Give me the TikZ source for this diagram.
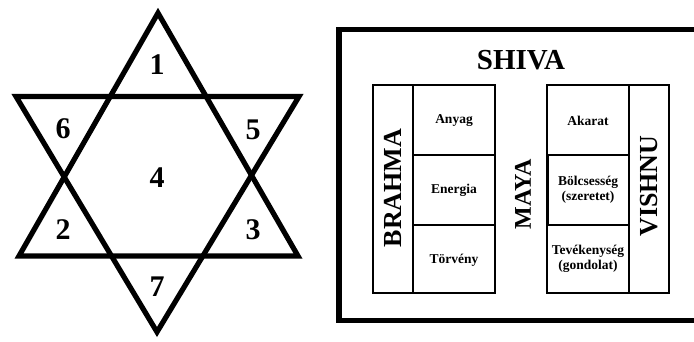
\documentclass[tikz,border=0pt]{standalone}
\usepackage{fontspec}
\setmainfont{Liberation Serif}
\begin{document}
\begin{tikzpicture}[x=1pt,y=-1pt,
  star/.style={line width=5.2pt,line join=miter},
  frame/.style={line width=5.5pt},
  thin/.style={line width=1.8pt},
  digit/.style={font=\fontsize{30}{34}\selectfont\bfseries,inner sep=0pt},
  god/.style={font=\fontsize{26}{30}\selectfont\bfseries,inner sep=0pt,rotate=90},
  celltext/.style={font=\fontsize{13.5}{15}\selectfont\bfseries,inner sep=0pt,align=center}]
\useasboundingbox[fill=white] (0,0) rectangle (694,341);
% star
\coordinate (ua) at (158,13);
\coordinate (ul) at (19,256);
\coordinate (ur) at (298,256);
\coordinate (dl) at (16,96.5);
\coordinate (dr) at (299,96.5);
\coordinate (da) at (157,332);
\draw[star] (ua) -- (ul) -- (ur) -- cycle;
\draw[star] (dl) -- (dr) -- (da) -- cycle;
\node[digit] (n1) at (157,65) {1};
\node[digit] (n6) at (63,129) {6};
\node[digit] (n5) at (253,130) {5};
\node[digit] (n4) at (157,178) {4};
\node[digit] (n2) at (63,230) {2};
\node[digit] (n3) at (253,230) {3};
\node[digit] (n7) at (157,287) {7};
% frame
\draw[frame] (698,29.5) -- (339,29.5) -- (339,320.5) -- (698,320.5);
\node[font=\fontsize{29}{34}\selectfont\bfseries,inner sep=0pt] (shiva) at (521,60) {SHIVA};
% left block
\draw[thin] (373,85) rectangle (495,293);
\draw[thin] (413,85) -- (413,293);
\draw[thin] (413,155) -- (495,155);
\draw[thin] (413,225) -- (495,225);
\node[god] (brahma) at (393,188) {BRAHMA};
\node[celltext] (anyag) at (454,121) {Anyag};
\node[celltext] (energia) at (454,190) {Energia};
\node[celltext] (torveny) at (454,260) {Törvény};
% maya
\node[god,font=\fontsize{24}{28}\selectfont\bfseries] (maya) at (523,194) {MAYA};
% right block
\draw[thin] (547,85) rectangle (669,293);
\draw[thin] (629,85) -- (629,293);
\draw[thin] (547,155) -- (629,155);
\draw[thin] (547,225) -- (629,225);
\draw[line width=3pt] (547.5,155) -- (547.5,225);
\node[god] (vishnu) at (649,186) {VISHNU};
\node[celltext] (akarat) at (588,121) {Akarat};
\node[celltext] (bolcs) at (588,190) {Bölcsesség\\(szeretet)};
\node[celltext] (tevek) at (588,259) {Tevékenység\\(gondolat)};
\end{tikzpicture}
\end{document}
